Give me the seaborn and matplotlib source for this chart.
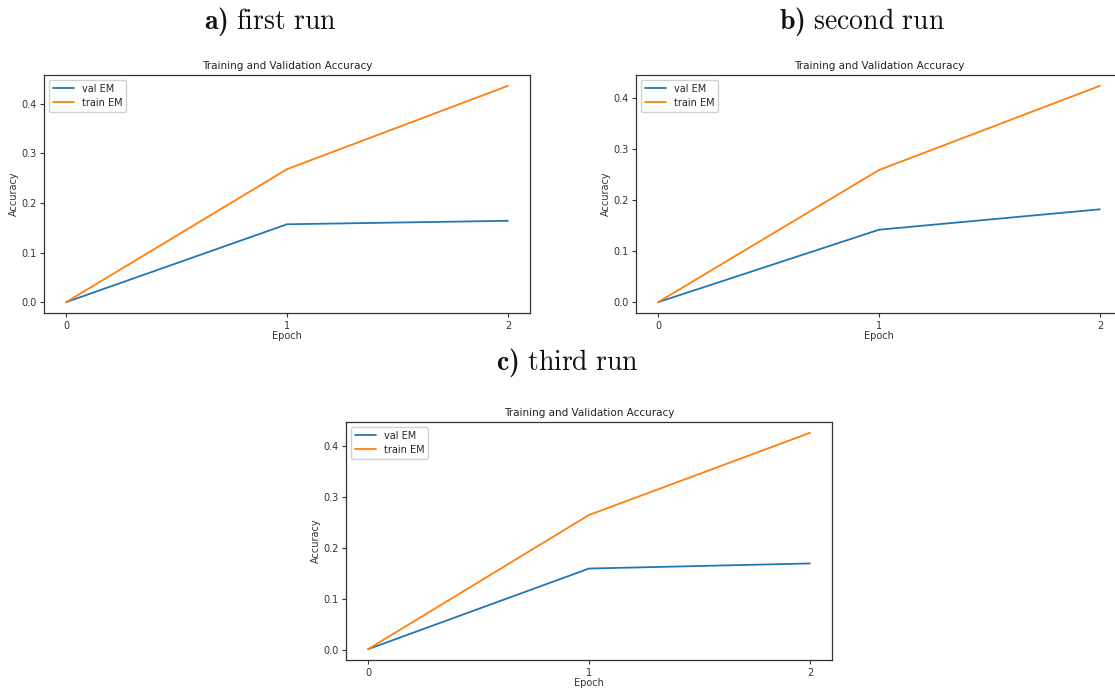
import matplotlib
matplotlib.use("Agg")
import matplotlib.pyplot as plt
import seaborn as sns
import pandas as pd

epochs = [0, 1, 2]
val_a = [0.0, 0.157, 0.164]
train_a = [0.0, 0.268, 0.436]
val_b = [0.0, 0.142, 0.182]
train_b = [0.0, 0.259, 0.424]
val_c = [0.002, 0.160, 0.170]
train_c = [0.002, 0.265, 0.426]
headings = [r"$\mathbf{a)}\ \mathrm{first\ run}$",
            r"$\mathbf{b)}\ \mathrm{second\ run}$",
            r"$\mathbf{c)}\ \mathrm{third\ run}$"]

sns.set_style("ticks")
plt.rcParams.update({
    "mathtext.fontset": "custom",
    "mathtext.rm": "cmr10",
    "mathtext.bf": "cmb10",
    "mathtext.it": "cmmi10",
    "axes.edgecolor": "#333333",
    "axes.linewidth": 0.9,
    "xtick.color": "#333333",
    "ytick.color": "#333333",
    "xtick.major.size": 3,
    "ytick.major.size": 3,
    "xtick.major.pad": 2.5,
    "ytick.major.pad": 2.5,
    "font.family": ["DejaVu Sans"],
})

fig = plt.figure(figsize=(11.15, 6.88), dpi=100)
W, H = 1115, 688
w, h = 486 / W, 238 / H
rects = [(44 / W, 1 - 313 / H, w, h),
         (636 / W, 1 - 313 / H, w, h),
         (346 / W, 1 - 660 / H, w, h)]
runs = [(val_a, train_a), (val_b, train_b), (val_c, train_c)]
head_pos = [(270 / W, 1 - 22 / H), (862 / W, 1 - 22 / H), (567 / W, 1 - 362 / H)]

for rect, (val, train), head, hp in zip(rects, runs, headings, head_pos):
    ax = fig.add_axes(rect)
    df = pd.DataFrame({"Epoch": epochs, "val": val, "train": train})
    sns.lineplot(data=df, x="Epoch", y="val", ax=ax, color="#1f77b4",
                 linewidth=1.3, label="val EM")
    sns.lineplot(data=df, x="Epoch", y="train", ax=ax, color="#ff7f0e",
                 linewidth=1.3, label="train EM")
    ax.set_xticks(epochs)
    ax.set_yticks([0.0, 0.1, 0.2, 0.3, 0.4])
    ax.set_yticklabels(["0.0", "0.1", "0.2", "0.3", "0.4"])
    ax.tick_params(labelsize=7, width=0.8)
    ax.set_xlabel("Epoch", fontsize=7, color="#333333", labelpad=0.5)
    ax.set_ylabel("Accuracy", fontsize=7, color="#333333", labelpad=1.5)
    ax.set_title("Training and Validation Accuracy", fontsize=7.5,
                 color="#222222", pad=4)
    ax.legend(loc="upper left", fontsize=7, frameon=True, fancybox=True,
              edgecolor="#cccccc", framealpha=0.9, handlelength=2.2,
              borderpad=0.4, labelspacing=0.4)
    fig.text(hp[0], hp[1], head, fontsize=20, ha="center", va="center",
             color="#111111")

fig.savefig("out.png", dpi=100)
